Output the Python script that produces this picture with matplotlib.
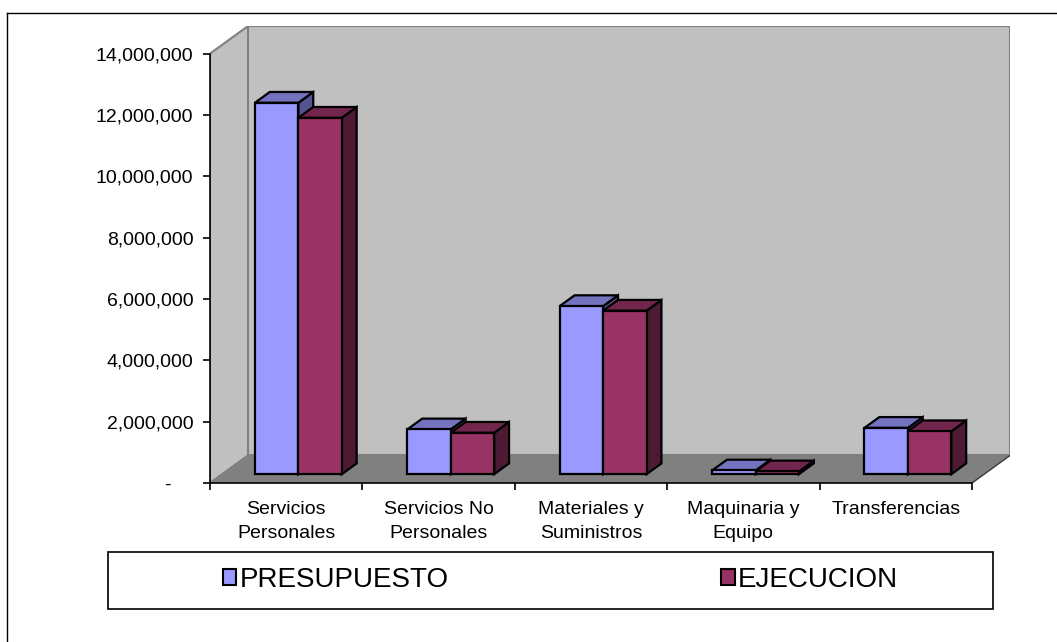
import numpy as np
import matplotlib
matplotlib.use('Agg')
import matplotlib.pyplot as plt
from matplotlib.patches import Polygon, Patch
from matplotlib.lines import Line2D
from matplotlib.ticker import FuncFormatter

plt.rcParams['font.family'] = ['Liberation Sans', 'DejaVu Sans']

# Data
categories = ['Servicios\nPersonales', 'Servicios No\nPersonales', 'Materiales y\nSuministros',
              'Maquinaria y\nEquipo', 'Transferencias']
presupuesto = [12.11e6, 1.46e6, 5.48e6, 0.12e6, 1.51e6]
ejecucion = [11.62e6, 1.35e6, 5.33e6, 0.09e6, 1.40e6]
series_names = ['PRESUPUESTO', 'EJECUCION']
y_ticks = np.arange(0, 14e6 + 1, 2e6)

# Excel-ish 3D colours: front, top, side
pres_colors = ('#9999FF', '#7373C0', '#535391')
ejec_colors = ('#993366', '#73264D', '#4D1A33')

# Oblique depth of the whole plot box (data units)
DEPTH_X = 0.25
DEPTH_Y = 0.9e6
# bars sit at this fraction of the box depth and are this deep
BAR_D0 = 0.32
BAR_DD = 0.39
BAR_W = 0.285

fig = plt.figure(figsize=(10.57, 6.42), dpi=100)
W, H = 1057.0, 642.0
ax = fig.add_axes([210 / W, (H - 483) / H, 800 / W, 457 / H])
n = len(categories)
ax.set_xlim(-0.5, n - 0.5 + DEPTH_X)
ax.set_ylim(0, y_ticks[-1] + DEPTH_Y)

ymax = y_ticks[-1]
x0, x1 = -0.5, n - 0.5
wall = '#C0C0C0'
edge = '#808080'

# left side wall, back wall, floor
ax.add_patch(Polygon([(x0, 0), (x0, ymax), (x0 + DEPTH_X, ymax + DEPTH_Y), (x0 + DEPTH_X, DEPTH_Y)],
                     closed=True, fc=wall, ec=edge, lw=1.5, zorder=0))
ax.add_patch(Polygon([(x0 + DEPTH_X, DEPTH_Y), (x0 + DEPTH_X, ymax + DEPTH_Y),
                      (x1 + DEPTH_X, ymax + DEPTH_Y), (x1 + DEPTH_X, DEPTH_Y)],
                     closed=True, fc=wall, ec=edge, lw=1.5, zorder=0))
ax.add_patch(Polygon([(x0, 0), (x1, 0), (x1 + DEPTH_X, DEPTH_Y), (x0 + DEPTH_X, DEPTH_Y)],
                     closed=True, fc='#808080', ec='#808080', lw=1, zorder=0.5))
ax.add_line(Line2D([x1, x1 + DEPTH_X], [0, DEPTH_Y], color='#404040', lw=1, zorder=0.6))


def bar3d(xl, h, colors):
    bx = xl + BAR_D0 * DEPTH_X
    by = BAR_D0 * DEPTH_Y
    dx = BAR_DD * DEPTH_X
    dy = BAR_DD * DEPTH_Y
    xr = bx + BAR_W
    top = by + h
    front, topc, side = colors
    kw = dict(closed=True, ec='black', lw=1.6, joinstyle='miter', zorder=2)
    ax.add_patch(Polygon([(xr, by), (xr + dx, by + dy), (xr + dx, top + dy), (xr, top)], fc=side, **kw))
    ax.add_patch(Polygon([(bx, top), (xr, top), (xr + dx, top + dy), (bx + dx, top + dy)], fc=topc, **kw))
    ax.add_patch(Polygon([(bx, by), (xr, by), (xr, top), (bx, top)], fc=front, **kw))


for i in range(n):
    bar3d(i - BAR_W, presupuesto[i], pres_colors)
    bar3d(i, ejecucion[i], ejec_colors)

# axes lines and ticks
for s in ['top', 'right']:
    ax.spines[s].set_visible(False)
ax.spines['left'].set_bounds(0, ymax)
ax.spines['bottom'].set_bounds(x0, x1)
for s in ['left', 'bottom']:
    ax.spines[s].set_linewidth(1.2)
    ax.spines[s].set_zorder(3)

ax.set_yticks(y_ticks)
ax.yaxis.set_major_formatter(FuncFormatter(lambda v, p: '-    ' if v == 0 else '{:,.0f}'.format(v)))
ax.tick_params(axis='y', length=5, width=1.2, pad=7, labelsize=14)

ax.set_xticks(np.arange(n))
ax.set_xticklabels(categories, va='top', linespacing=1.5)
ax.set_xticks(np.arange(n + 1) - 0.5, minor=True)
ax.tick_params(axis='x', which='major', length=0, pad=13, labelsize=14)
ax.tick_params(axis='x', which='minor', length=5, width=1.2)

# legend box
fig.add_artist(plt.Rectangle((108 / W, (H - 609) / H), 885 / W, 57 / H, transform=fig.transFigure,
                             fc='white', ec='black', lw=1.2, zorder=1))
handles = [Patch(fc=pres_colors[0], ec='black', lw=1.5), Patch(fc=ejec_colors[0], ec='black', lw=1.5)]
leg = fig.legend(handles, series_names, loc='center', bbox_to_anchor=(560 / W, (H - 580) / H),
                 ncol=2, frameon=False, fontsize=20, handlelength=0.5, handleheight=0.5,
                 handletextpad=0.1, columnspacing=9.8)
leg.set_zorder(2)

# outer chart border
fig.add_artist(Line2D([7 / W, 1.0], [(H - 13) / H] * 2, transform=fig.transFigure, color='black', lw=1))
fig.add_artist(Line2D([7 / W] * 2, [0.0, (H - 13) / H], transform=fig.transFigure, color='black', lw=1))

fig.savefig('out.png', dpi=100)
